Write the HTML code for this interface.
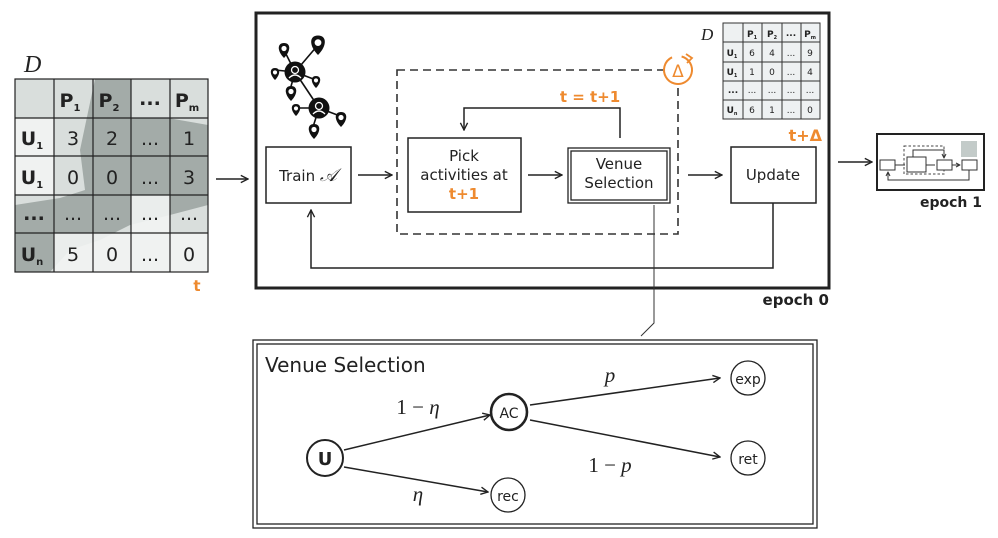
<!DOCTYPE html>
<html><head><meta charset="utf-8"><style>
html,body{margin:0;padding:0;background:#fff}
svg{display:block}
text{font-family:"DejaVu Sans","Liberation Sans",sans-serif;fill:#222}
.o{fill:#ee8a2f;font-weight:bold}
.m{font-family:"Liberation Serif",serif;font-style:italic}
</style></head><body>
<svg width="998" height="538" viewBox="0 0 998 538" xmlns="http://www.w3.org/2000/svg">
<defs>
<marker id="a" viewBox="0 0 10 10" refX="9" refY="5" markerWidth="9" markerHeight="9" orient="auto" markerUnits="userSpaceOnUse"><path d="M1,1 L9,5 L1,9" fill="none" stroke="#222" stroke-width="1.5"/></marker>
<marker id="s" viewBox="0 0 10 10" refX="9" refY="5" markerWidth="5" markerHeight="5" orient="auto" markerUnits="userSpaceOnUse"><path d="M1,1 L9,5 L1,9" fill="none" stroke="#333" stroke-width="2"/></marker>
<g id="pin"><path d="M0,0 C-7,-7 -7,-15 0,-15 C7,-15 7,-7 0,0Z" fill="#111"/><circle cx="0" cy="-9.5" r="2.6" fill="#fff"/></g>
<g id="usr"><circle r="10.5" fill="#111"/><circle cy="-2" r="3.5" fill="none" stroke="#fff" stroke-width="1.3"/><path d="M-6,6 Q0,0 6,6" fill="none" stroke="#fff" stroke-width="1.3"/></g>
</defs>

<!-- left table with map -->
<rect x="15" y="79" width="193" height="193" fill="#d9dedc"/>
<path d="M95,79 L160,79 L168,118 L208,125 L208,205 L170,215 L130,225 L100,240 L70,250 L50,272 L15,272 L15,205 L60,198 L85,190 L80,150 Z" fill="#a3aba8"/>
<path d="M131,79 L170,79 L170,118 L131,118Z M15,79 L54,79 L54,118 L15,118Z M170,79 L208,79 L208,118 L170,118Z" fill="#d9dedc"/>
<path d="M15,118 L54,118 L54,195 L15,195Z M93,233 L208,233 L208,272 L93,272Z M54,233 L93,233 L93,272 L54,272Z M131,195 L170,195 L170,233 L131,233Z" fill="#f2f4f3" opacity="0.9"/>
<g stroke="#222" stroke-width="1.2" fill="none">
<rect x="15" y="79" width="193" height="193"/>
<path d="M54,79V272M93,79V272M131,79V272M170,79V272M15,118H208M15,156H208M15,195H208M15,233H208"/>
</g>
<text x="24" y="72" class="m" font-size="24">D</text>
<g font-size="19" text-anchor="middle">
<text x="70" y="107" font-weight="bold">P<tspan font-size="10" dy="4">1</tspan></text>
<text x="109" y="107" font-weight="bold">P<tspan font-size="10" dy="4">2</tspan></text>
<text x="150" y="105" font-weight="bold">...</text>
<text x="187" y="107" font-weight="bold">P<tspan font-size="10" dy="4">m</tspan></text>
<text x="32" y="145" font-weight="bold">U<tspan font-size="10" dy="4">1</tspan></text>
<text x="32" y="184" font-weight="bold">U<tspan font-size="10" dy="4">1</tspan></text>
<text x="34" y="220" font-weight="bold">...</text>
<text x="32" y="261" font-weight="bold">U<tspan font-size="10" dy="4">n</tspan></text>
<text x="73" y="145">3</text><text x="112" y="145">2</text><text x="150" y="145">...</text><text x="189" y="145">1</text>
<text x="73" y="184">0</text><text x="112" y="184">0</text><text x="150" y="184">...</text><text x="189" y="184">3</text>
<text x="73" y="220">...</text><text x="112" y="220">...</text><text x="150" y="220">...</text><text x="189" y="220">...</text>
<text x="73" y="261">5</text><text x="112" y="261">0</text><text x="150" y="261">...</text><text x="189" y="261">0</text>
</g>
<text x="197" y="291" class="o" font-size="15" text-anchor="middle">t</text>
<line x1="216" y1="179" x2="248" y2="179" stroke="#222" stroke-width="1.5" marker-end="url(#a)"/>

<!-- main box -->
<rect x="256" y="13" width="573" height="275" fill="none" stroke="#222" stroke-width="3"/>
<text x="829" y="305" font-size="15" font-weight="bold" text-anchor="end">epoch 0</text>

<!-- network icon -->
<g stroke="#111" stroke-width="1.6">
<line x1="295" y1="72" x2="319" y2="108"/><line x1="295" y1="72" x2="284" y2="50"/><line x1="295" y1="72" x2="318" y2="45"/>
<line x1="295" y1="72" x2="275" y2="70"/><line x1="295" y1="72" x2="316" y2="80"/><line x1="295" y1="72" x2="290" y2="90"/>
<line x1="319" y1="108" x2="296" y2="108"/><line x1="319" y1="108" x2="340" y2="116"/><line x1="319" y1="108" x2="313" y2="127"/>
</g>
<use href="#usr" x="295" y="72"/><use href="#usr" x="319" y="108"/>
<use href="#pin" x="284" y="58"/><use href="#pin" transform="translate(318,55) scale(1.3)"/>
<use href="#pin" transform="translate(275,80) scale(0.8)"/><use href="#pin" transform="translate(316,88) scale(0.8)"/>
<use href="#pin" x="291" y="101"/><use href="#pin" transform="translate(296,116) scale(0.8)"/>
<use href="#pin" x="341" y="127"/><use href="#pin" x="314" y="139"/>

<!-- train -->
<rect x="266" y="147" width="85" height="56" fill="#fff" stroke="#222" stroke-width="1.5"/>
<text x="308" y="181" font-size="15" text-anchor="middle">Train <tspan class="m" font-size="18">𝒜</tspan></text>
<line x1="358" y1="175" x2="392" y2="175" stroke="#222" stroke-width="1.5" marker-end="url(#a)"/>

<!-- dashed -->
<rect x="397" y="70" width="281" height="164" fill="none" stroke="#333" stroke-width="1.6" stroke-dasharray="8,5"/>
<circle cx="678" cy="70" r="14" fill="#fff" stroke="#ee8a2f" stroke-width="2" stroke-dasharray="78,10" transform="rotate(-75 678 70)"/>
<path d="M686,54 L692,58 L687,63" fill="none" stroke="#ee8a2f" stroke-width="1.8"/>
<text x="678" y="77" font-size="17" text-anchor="middle" style="fill:#ee8a2f">Δ</text>

<rect x="408" y="138" width="113" height="74" fill="#fff" stroke="#222" stroke-width="1.5"/>
<g font-size="15" text-anchor="middle"><text x="464" y="161">Pick</text><text x="464" y="180">activities at</text><text x="464" y="199" class="o">t+1</text></g>
<line x1="528" y1="175" x2="562" y2="175" stroke="#222" stroke-width="1.5" marker-end="url(#a)"/>
<rect x="568" y="148" width="102" height="55" fill="#fff" stroke="#222" stroke-width="1.3"/>
<rect x="571" y="151" width="96" height="49" fill="none" stroke="#222" stroke-width="1.3"/>
<g font-size="15" text-anchor="middle"><text x="619" y="169">Venue</text><text x="619" y="188">Selection</text></g>
<path d="M620,138 V108 H464 V130" fill="none" stroke="#222" stroke-width="1.5" marker-end="url(#a)"/>
<text x="590" y="102" class="o" font-size="15" text-anchor="middle">t = t+1</text>

<line x1="688" y1="175" x2="722" y2="175" stroke="#222" stroke-width="1.5" marker-end="url(#a)"/>
<rect x="731" y="147" width="85" height="56" fill="#fff" stroke="#222" stroke-width="1.5"/>
<text x="773" y="180" font-size="15" text-anchor="middle">Update</text>
<path d="M773,203 V268 H311 V210" fill="none" stroke="#222" stroke-width="1.5" marker-end="url(#a)"/>

<!-- right table -->
<rect x="723" y="23" width="97" height="96" fill="#eef1f2"/>
<g stroke="#333" stroke-width="1" fill="none">
<rect x="723" y="23" width="97" height="96"/>
<path d="M743,23V119M762,23V119M782,23V119M801,23V119M723,42H820M723,62H820M723,81H820M723,100H820"/>
</g>
<text x="701" y="40" class="m" font-size="17">D</text>
<g font-size="9" text-anchor="middle">
<text x="752" y="37" font-weight="bold">P<tspan font-size="5" dy="2">1</tspan></text>
<text x="772" y="37" font-weight="bold">P<tspan font-size="5" dy="2">2</tspan></text>
<text x="791" y="36" font-weight="bold">...</text>
<text x="810" y="37" font-weight="bold">P<tspan font-size="5" dy="2">m</tspan></text>
<text x="732" y="56" font-weight="bold">U<tspan font-size="5" dy="2">1</tspan></text>
<text x="732" y="75" font-weight="bold">U<tspan font-size="5" dy="2">1</tspan></text>
<text x="733" y="93" font-weight="bold">...</text>
<text x="732" y="113" font-weight="bold">U<tspan font-size="5" dy="2">n</tspan></text>
<text x="752" y="56">6</text><text x="772" y="56">4</text><text x="791" y="56">...</text><text x="810" y="56">9</text>
<text x="752" y="75">1</text><text x="772" y="75">0</text><text x="791" y="75">...</text><text x="810" y="75">4</text>
<text x="752" y="93">...</text><text x="772" y="93">...</text><text x="791" y="93">...</text><text x="810" y="93">...</text>
<text x="752" y="113">6</text><text x="772" y="113">1</text><text x="791" y="113">...</text><text x="810" y="113">0</text>
</g>
<text x="822" y="141" class="o" font-size="16" text-anchor="end">t+Δ</text>

<!-- epoch 1 -->
<line x1="838" y1="162" x2="872" y2="162" stroke="#222" stroke-width="1.5" marker-end="url(#a)"/>
<rect x="877" y="134" width="107" height="56" fill="#fff" stroke="#222" stroke-width="2"/>
<rect x="961" y="141" width="16" height="16" fill="#c3cbc9"/>
<rect x="904" y="146" width="40" height="28" fill="none" stroke="#444" stroke-width="1" stroke-dasharray="2.5,2"/>
<g fill="#fff" stroke="#333" stroke-width="1">
<rect x="880" y="160" width="15" height="10"/><rect x="907" y="157" width="19" height="15"/><rect x="937" y="160" width="15" height="10"/><rect x="962" y="160" width="15" height="10"/>
</g>
<g stroke="#333" stroke-width="1" fill="none">
<path d="M895,165H905M926,165H935M952,165H960" marker-end="url(#s)"/>
<path d="M913,157V150H944V158" marker-end="url(#s)"/>
<path d="M969,170V180H888V172" marker-end="url(#s)"/>
</g>
<text x="982" y="207" font-size="14" font-weight="bold" text-anchor="end">epoch 1</text>

<!-- connector -->
<path d="M654,205 V323 L641,336" fill="none" stroke="#333" stroke-width="1"/>

<!-- venue selection detail -->
<rect x="253" y="340" width="564" height="188" fill="#fff" stroke="#222" stroke-width="1.3"/>
<rect x="257" y="344" width="556" height="180" fill="none" stroke="#222" stroke-width="1.3"/>
<text x="265" y="372" font-size="20">Venue Selection</text>
<g stroke="#222" stroke-width="1.5" fill="none" marker-end="url(#a)">
<line x1="344" y1="450" x2="490" y2="415"/>
<line x1="344" y1="467" x2="488" y2="492"/>
<line x1="530" y1="405" x2="720" y2="378"/>
<line x1="530" y1="420" x2="720" y2="457"/>
</g>
<g fill="#fff" stroke="#222" stroke-width="1.3">
<circle cx="325" cy="458" r="18" stroke-width="2"/><circle cx="509" cy="412" r="18" stroke-width="2.6"/>
<circle cx="508" cy="495" r="17"/><circle cx="748" cy="378" r="17"/><circle cx="748" cy="458" r="17"/>
</g>
<g text-anchor="middle" font-size="14">
<text x="325" y="465" font-size="18" font-weight="bold">U</text>
<text x="509" y="418">AC</text><text x="508" y="501">rec</text><text x="748" y="384">exp</text><text x="748" y="464">ret</text>
</g>
<g style="font-family:'Liberation Serif',serif" font-size="21" text-anchor="middle">
<text x="418" y="414" style="font-family:'Liberation Serif',serif">1 − <tspan font-style="italic">η</tspan></text>
<text x="610" y="382" font-style="italic" style="font-family:'Liberation Serif',serif">p</text>
<text x="610" y="472" style="font-family:'Liberation Serif',serif">1 − <tspan font-style="italic">p</tspan></text>
<text x="418" y="501" font-style="italic" style="font-family:'Liberation Serif',serif">η</text>
</g>
</svg>
</body></html>
